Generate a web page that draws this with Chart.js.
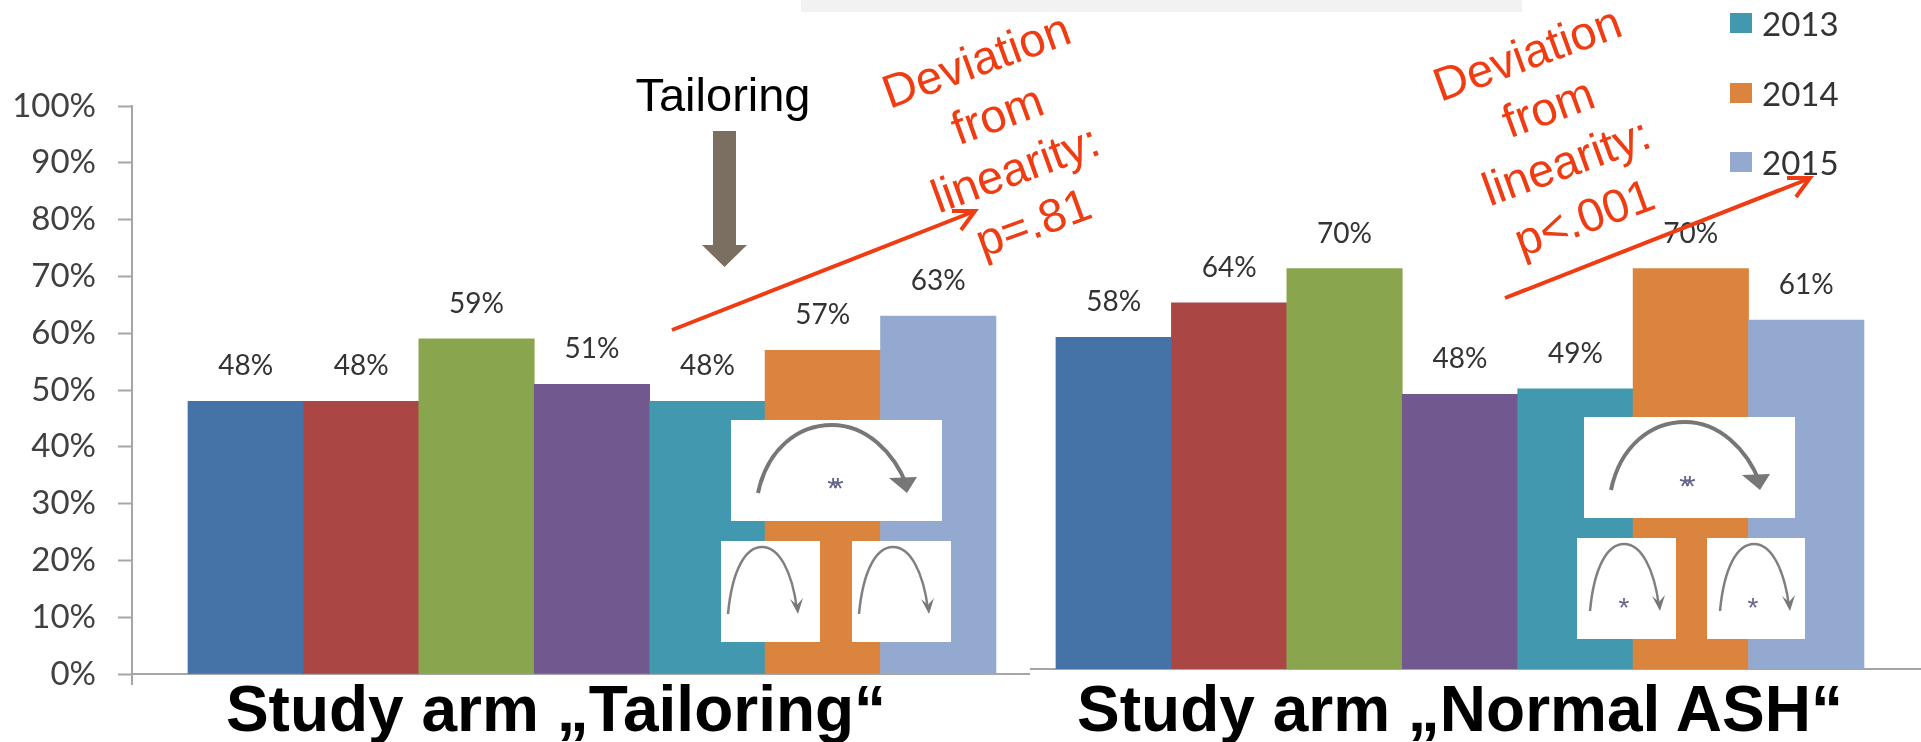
<!DOCTYPE html>
<html>
<head>
<meta charset="utf-8">
<title>Study arms</title>
<style>
  html, body { margin: 0; background: #fff; }
  #page { position: relative; width: 1921px; height: 742px; overflow: hidden; }
  #page canvas, #page svg { position: absolute; top: 0; }
  .red { font: 47px "Liberation Sans", Arial, sans-serif; fill: #f03c12; text-anchor: middle; dominant-baseline: central; }
  .armTitle { font: bold 64px "Liberation Sans", Arial, sans-serif; fill: #000; text-anchor: middle; }
  .star { font-family: "Liberation Sans", Arial, sans-serif; fill: #66668c; text-anchor: middle; }
  .legendBox { position: absolute; left: 1730px; width: 22px; height: 20px; }
  .legendText { position: absolute; left: 1762px; font: 33px/38px Lato, sans-serif; color: #333; }
</style>
</head>
<body>
<div id="page">
  <canvas id="armTailoring" width="1030" height="742" style="left:0"></canvas>
  <canvas id="armNormal" width="891" height="742" style="left:1030px"></canvas>

  <svg width="1921" height="742" viewBox="0 0 1921 742">
    <defs>
      <g id="bigArc">
        <path d="M27,73 C36,30 66,5 101,5 C135,5 163,32 176,66" fill="none" stroke="#777" stroke-width="4"/>
        <path d="M158,58 L186,57 L176,73 Z" fill="#777"/>
      </g>
      <g id="smallArc">
        <path d="M7,73 C11,30 24,6 41,6 C58,6 71,30 76,68" fill="none" stroke="#808080" stroke-width="2.5"/>
        <path d="M69,58 L76,64 L82,57 L77,73 Z" fill="#777"/>
      </g>
    </defs>

    <!-- strip along the top edge -->
    <rect x="801" y="0" width="721" height="12" fill="#f2f2f2"/>

    <!-- foot of the percent axis below the baseline -->
    <line x1="132" y1="674" x2="132" y2="685" stroke="#a6a6a6" stroke-width="2"/>

    <!-- tailoring marker -->
    <text x="723" y="111" text-anchor="middle" font-family="Liberation Sans, Arial, sans-serif" font-size="47">Tailoring</text>
    <path d="M713,131 H736 V245 H747 L724.5,267 L702,245 H713 Z" fill="#7a6f60"/>

    <!-- left arm: trend arrow and note -->
    <g stroke="#f03c12" stroke-width="4" fill="none">
      <path d="M672,330 L975,211"/>
      <path d="M952,211 L975,211 L961,230"/>
    </g>
    <text class="red" transform="translate(976,60) rotate(-20)">Deviation</text>
    <text class="red" transform="translate(997,114) rotate(-20)">from</text>
    <text class="red" transform="translate(1015,168) rotate(-20)">linearity:</text>
    <text class="red" transform="translate(1033,222) rotate(-20)">p=.81</text>

    <!-- right arm: trend arrow and note -->
    <g stroke="#f03c12" stroke-width="4" fill="none">
      <path d="M1505,298 L1808,179"/>
      <path d="M1787,178 L1810,178 L1796,197"/>
    </g>
    <text class="red" transform="translate(1527,53) rotate(-20)">Deviation</text>
    <text class="red" transform="translate(1548,107) rotate(-20)">from</text>
    <text class="red" transform="translate(1566,161) rotate(-20)">linearity:</text>
    <text class="red" transform="translate(1584,217) rotate(-20)">p&lt;.001</text>

    <!-- comparison arcs, left arm -->
    <rect x="731" y="420" width="211" height="101" fill="#fff"/>
    <rect x="721" y="541" width="99" height="101" fill="#fff"/>
    <rect x="852" y="541" width="99" height="101" fill="#fff"/>
    <use href="#bigArc" x="731" y="420"/>
    <use href="#smallArc" x="721" y="541"/>
    <use href="#smallArc" x="852" y="541"/>
    <text class="star" x="832" y="498" font-size="30" letter-spacing="-7">**</text>

    <!-- comparison arcs, right arm -->
    <rect x="1584" y="417" width="211" height="101" fill="#fff"/>
    <rect x="1577" y="538" width="99" height="101" fill="#fff"/>
    <rect x="1707" y="538" width="98" height="101" fill="#fff"/>
    <use href="#bigArc" x="1584" y="417"/>
    <use href="#smallArc" x="1583" y="538"/>
    <use href="#smallArc" x="1713" y="538"/>
    <text class="star" x="1684" y="496" font-size="30" letter-spacing="-7">**</text>
    <text class="star" x="1624" y="617" font-size="28">*</text>
    <text class="star" x="1753" y="617" font-size="28">*</text>

    <text class="armTitle" x="556" y="731">Study arm „Tailoring“</text>
    <text class="armTitle" x="1460" y="731">Study arm „Normal ASH“</text>
  </svg>
</div>

<script src="https://cdn.jsdelivr.net/npm/chart.js"></script>
<script>
  // Percentages per bar, left to right
  const tailoringValues = [48, 48, 59, 51, 48, 57, 63];
  const normalValues = [58, 64, 70, 48, 49, 70, 61];
  const barIndexes = [0, 1, 2, 3, 4, 5, 6];
  const barColors = ['#4572a7', '#aa4643', '#89a54e', '#71588f', '#4198af', '#db843d', '#93a9cf'];
  const tickValues = [0, 10, 20, 30, 40, 50, 60, 70, 80, 90, 100];
  const legendYears = ['2013', '2014', '2015'];
  const legendColors = ['#4198af', '#db843d', '#93a9cf'];
  const legendTops = [13, 83, 152];

  const axisGrey = '#a6a6a6';

  // Writes the value above each bar
  const barValueLabels = {
    id: 'barValueLabels',
    afterDatasetsDraw(chart) {
      const ctx = chart.ctx;
      const values = chart.data.datasets[0].data;
      ctx.save();
      ctx.font = '28px Lato, sans-serif';
      ctx.fillStyle = '#333';
      ctx.textAlign = 'center';
      ctx.textBaseline = 'middle';
      chart.getDatasetMeta(0).data.forEach((bar, i) => {
        ctx.fillText(values[i].y + '%', bar.x, bar.y - 35);
      });
      ctx.restore();
    }
  };

  function drawArm(canvasId, values, xMin, xMax, yOptions, padding) {
    return new Chart(document.getElementById(canvasId), {
      type: 'bar',
      data: {
        datasets: [{
          data: values.map((v, i) => ({ x: barIndexes[i], y: v })),
          backgroundColor: barColors,
          barPercentage: 1,
          categoryPercentage: 1,
          borderWidth: 0
        }]
      },
      options: {
        responsive: false,
        animation: false,
        layout: { padding },
        plugins: { legend: { display: false }, tooltip: { enabled: false } },
        scales: {
          x: {
            type: 'linear',
            min: xMin,
            max: xMax,
            offset: false,
            // ticks on the bar positions, so bars get a full slot each
            afterBuildTicks: (scale) => { scale.ticks = barIndexes.map((value) => ({ value })); },
            ticks: { display: false },
            grid: { display: false },
            border: { color: axisGrey, width: 2 },
            afterFit: (scale) => { scale.height = 0; }
          },
          y: yOptions
        }
      },
      plugins: [barValueLabels]
    });
  }

  // Left arm carries the percent axis, so its x range starts left of the first bar
  drawArm('armTailoring', tailoringValues, -0.985, 6.795, {
    min: 0,
    max: 100,
    afterFit: (scale) => { scale.width = 132; },
    afterBuildTicks: (scale) => { scale.ticks = tickValues.map((value) => ({ value })); },
    ticks: {
      padding: 22,
      color: '#404040',
      font: { family: 'Lato, sans-serif', size: 33 },
      callback: (v) => v + '%'
    },
    grid: { drawOnChartArea: false, tickLength: 14, tickWidth: 2, tickColor: axisGrey },
    border: { color: axisGrey, width: 2 }
  }, { top: 106, bottom: 68 });

  drawArm('armNormal', normalValues, -0.725, 6.994, {
    display: false,
    min: 0,
    max: 100
  }, { top: 97, bottom: 73 });

  // Legend column
  const page = document.getElementById('page');
  legendYears.forEach((year, i) => {
    const box = document.createElement('div');
    box.className = 'legendBox';
    box.style.top = legendTops[i] + 'px';
    box.style.background = legendColors[i];
    const text = document.createElement('div');
    text.className = 'legendText';
    text.style.top = (legendTops[i] - 9) + 'px';
    text.textContent = year;
    page.appendChild(box);
    page.appendChild(text);
  });
</script>
</body>
</html>
